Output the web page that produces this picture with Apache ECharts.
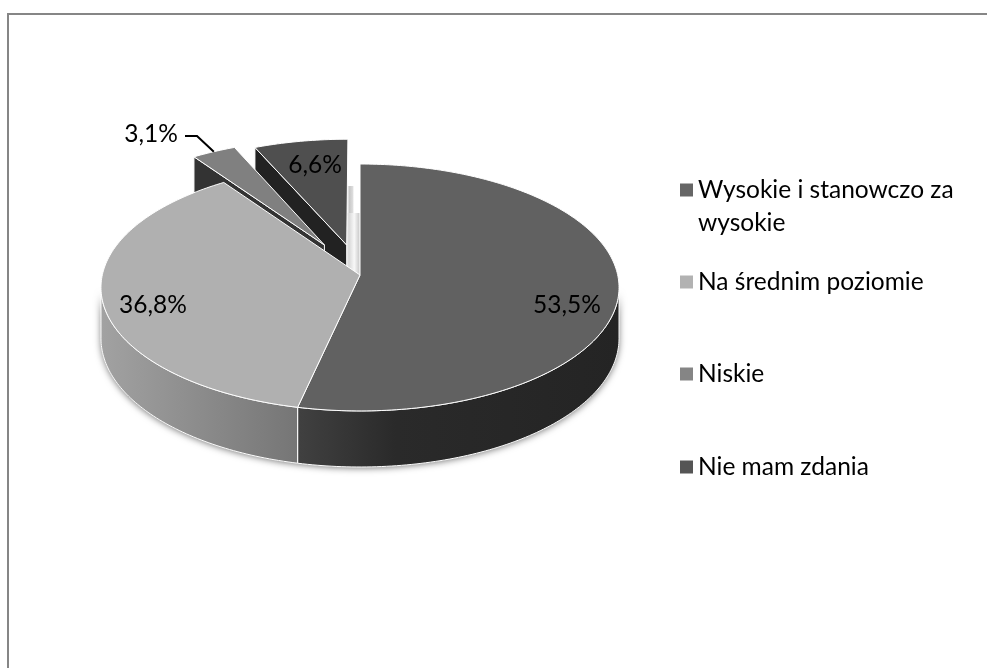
<!DOCTYPE html>
<html>
<head>
<meta charset="utf-8">
<style>html,body{margin:0;padding:0;background:#fff}#chart{width:987px;height:668px}</style>
<script src="https://cdn.jsdelivr.net/npm/echarts@6/dist/echarts.min.js"></script>
</head>
<body>
<div id="chart"></div>
<script>
// Survey answers and their shares, in percent
const categories = ['Wysokie i stanowczo za wysokie', 'Na średnim poziomie', 'Niskie', 'Nie mam zdania'];
const shares = [53.5, 36.8, 3.1, 6.6];
// How far each slice is pulled out of the pie, as a fraction of its radius
const explode = [0, 0, 0.289, 0.257];
const topColors = ['#616161', '#b0b0b0', '#808080', '#4f4f4f'];
const swatchColors = ['#666666', '#b2b2b2', '#858585', '#555555'];

// Perspective disc: centre, radii, vanishing factor, thickness
const CX = 360, CY = 275, RX = 257.7, RY = 122.2, K = 0.101, DEPTH = 50.4;
const FONT = 'Lato';
const FONT_SIZE = 24.5;

const total = shares.reduce((a, b) => a + b, 0);
const starts = shares.map((_, i) => shares.slice(0, i).reduce((a, b) => a + b, 0) / total * 360);
const ends = shares.map((s, i) => starts[i] + s / total * 360);

const rad = d => d * Math.PI / 180;
// Maps a point of the unit disc (clockwise degrees from north) to the screen, top or bottom face
function project(angle, r, ox, oy, drop) {
  const u = r * Math.sin(rad(angle)) + ox;
  const v = r * Math.cos(rad(angle)) + oy;
  const w = 1 + K * v;
  return [CX + RX * u / w, CY - RY * v / w + (drop ? DEPTH / w : 0)];
}
function offsetOf(i) {
  const mid = (starts[i] + ends[i]) / 2;
  return [explode[i] * Math.sin(rad(mid)), explode[i] * Math.cos(rad(mid))];
}
function arc(from, to, ox, oy, drop) {
  const pts = [];
  const n = Math.max(2, Math.ceil(Math.abs(to - from)));
  for (let j = 0; j <= n; j++) pts.push(project(from + (to - from) * j / n, 1, ox, oy, drop));
  return pts;
}
const hGrad = (x, x2, stops) => ({
  type: 'linear', global: true, x: x, y: 0, x2: x2, y2: 0,
  colorStops: stops.map(s => ({ offset: s[0], color: s[1] }))
});
const wallFill = [
  hGrad(300, 620, [[0, '#404040'], [0.3, '#2a2a2a'], [1, '#242424']]),
  hGrad(100, 300, [[0, '#a2a2a2'], [1, '#757575']]),
  '#333333',
  '#222222'
];
// Data label placement and the single leader line
const labelAt = [[567, 305], [153, 305], [151, 134], [315, 165]];
const leader = { 2: [[185, 136], [197, 136]] };

function sliceRenderer(i) {
  return function (params, api) {
    const share = api.value(0);
    const from = starts[i];
    const to = from + share / total * 360;
    const [ox, oy] = offsetOf(i);
    const children = [];
    const stroke = { stroke: '#ffffff', lineWidth: 1 };

    // Rim of the slice, only where it faces the viewer
    const a = Math.max(from, 96), b = Math.min(to, 264);
    if (b > a) {
      children.push({
        type: 'polygon',
        shape: { points: arc(a, b, ox, oy, false).concat(arc(a, b, ox, oy, true).reverse()) },
        style: Object.assign({ fill: wallFill[i] }, stroke)
      });
    }
    // Cut face of a pulled-out slice
    if (explode[i] > 0) {
      const apex = project(0, 0, ox, oy, false), apexLow = project(0, 0, ox, oy, true);
      children.push({
        type: 'polygon',
        shape: { points: [project(from, 1, ox, oy, false), apex, apexLow, project(from, 1, ox, oy, true)] },
        style: Object.assign({ fill: wallFill[i] }, stroke)
      });
    }
    // Top face
    children.push({
      type: 'polygon',
      shape: { points: [project(0, 0, ox, oy, false)].concat(arc(from, to, ox, oy, false)) },
      style: Object.assign({ fill: topColors[i] }, stroke)
    });
    // Percentage label
    children.push({
      type: 'text',
      z2: 50,
      style: {
        x: labelAt[i][0], y: labelAt[i][1], align: 'center', verticalAlign: 'middle',
        text: share.toFixed(1).replace('.', ',') + '%',
        font: FONT_SIZE + 'px ' + FONT, fill: '#000000'
      }
    });
    if (leader[i]) {
      const mid = project((from + to) / 2, 1, ox, oy, false);
      children.push({
        type: 'polyline', z2: 50,
        shape: { points: leader[i].concat([mid]) },
        style: { stroke: '#000000', lineWidth: 2, fill: null }
      });
    }
    return { type: 'group', children: children };
  };
}

// Soft shadow under the whole disc, and the faint glow in the gap behind the pulled-out slice
function shadowRenderer() {
  const glow = (x, y, w, h, stops) => ({
    type: 'rect', shape: { x: x, y: y, width: w, height: h },
    style: { fill: hGrad(x, x + w, stops) }
  });
  return {
    type: 'group',
    children: [
      {
        type: 'polygon',
        shape: { points: arc(96, 264, 0, 0, false).concat(arc(96, 264, 0, 0, true).reverse()) },
        style: { fill: '#555555', shadowBlur: 7, shadowColor: 'rgba(0,0,0,0.55)', shadowOffsetY: 1 }
      },
      glow(347, 186, 7, 28, [[0, '#ffffff'], [0.35, '#c8c8c8'], [0.8, '#dcdcdc'], [1, '#ffffff']]),
      glow(346, 213, 15, 62, [[0, '#ececec'], [0.2, '#d8d8d8'], [0.55, '#f8f8f8'], [0.85, '#d0d0d0'], [1, '#e0e0e0']])
    ]
  };
}

// Back slices are painted first so the nearer ones cover them
const paintOrder = [3, 2, 0, 1];
const series = [{
  type: 'custom', coordinateSystem: 'none', silent: true, data: [[0]], renderItem: shadowRenderer
}].concat(paintOrder.map(i => ({
  type: 'custom',
  name: categories[i],
  coordinateSystem: 'none',
  silent: true,
  data: [[shares[i]]],
  itemStyle: { color: swatchColors[i] },
  renderItem: sliceRenderer(i)
})));

const legendTops = [134.5, 259.5, 351.5, 444.5];
const legends = categories.map((name, i) => ({
  left: 674,
  top: legendTops[i],
  orient: 'vertical',
  selectedMode: false,
  itemWidth: 13,
  itemHeight: 13,
  padding: 6,
  data: [{ name: name, icon: 'rect', itemStyle: { color: swatchColors[i] } }],
  // The wrapped entry gets a blank first line so the swatch sits beside its first text line
  formatter: n => n.replace('za wysokie', 'za\nwysokie').replace(/^(.*\n.*)$/, ' \n$1'),
  textStyle: { fontFamily: FONT, fontSize: FONT_SIZE, color: '#000000', lineHeight: 33 }
}));

const chart = echarts.init(document.getElementById('chart'), null, { renderer: 'canvas' });
chart.setOption({
  animation: false,
  backgroundColor: '#ffffff',
  legend: legends,
  series: series,
  graphic: [
    { type: 'line', shape: { x1: 7, y1: 14, x2: 987, y2: 14 }, style: { stroke: '#868686', lineWidth: 2 } },
    { type: 'line', shape: { x1: 8, y1: 14, x2: 8, y2: 668 }, style: { stroke: '#868686', lineWidth: 2 } }
  ]
});
</script>
</body>
</html>
